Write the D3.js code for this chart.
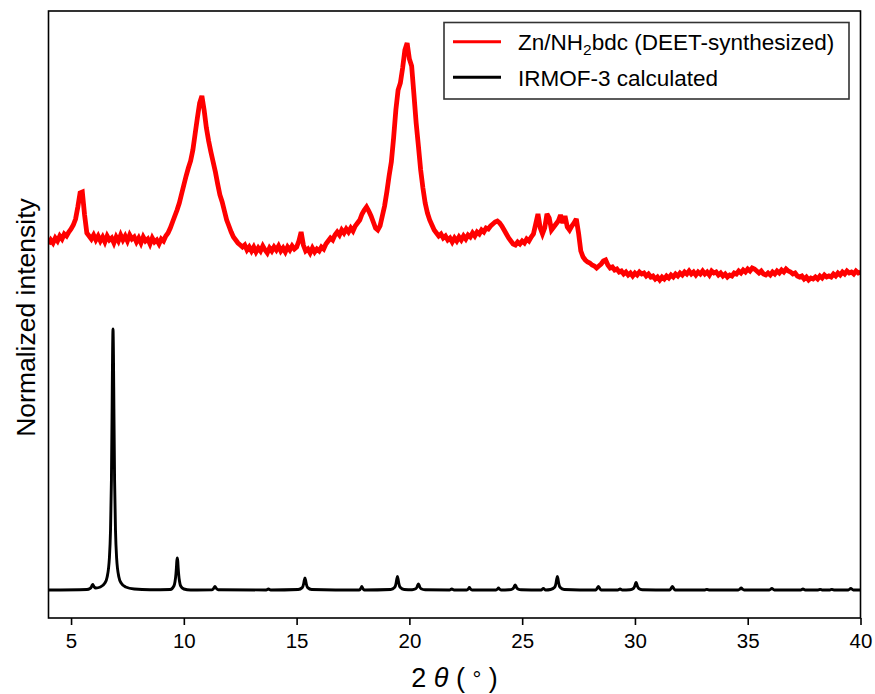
<!DOCTYPE html>
<html>
<head>
<meta charset="utf-8">
<script src="https://cdn.jsdelivr.net/npm/d3@7"></script>
<style>
  html, body { margin: 0; padding: 0; background: #fff; }
  svg { display: block; font-family: "Liberation Sans", Arial, Helvetica, sans-serif; }
</style>
</head>
<body>
<svg id="chart" width="875" height="694"></svg>
<script>
// ---- Data ----
const xTicks = [5, 10, 15, 20, 25, 30, 35, 40];
const seriesNames = ["Zn/NH2bdc (DEET-synthesized)", "IRMOF-3 calculated"];
const seriesColors = ["#ff0000", "#000000"];

// Measured pattern: 2θ from 4.0° to 40.0° in 0.1° steps (arbitrary intensity units, offset)
const redStart = 4.0, redStep = 0.1;
const redIntensity = [
  346,350,347,352,349,354,351,356,354,358,
  361,365,371,383,397,398,375,357,354,351,
  355,350,354,349,353,348,354,350,352,347,
  353,349,355,350,354,349,355,351,353,348,
  352,347,353,349,351,346,352,348,350,346,
  351,349,354,357,362,368,374,380,387,396,
  405,414,422,429,440,456,472,487,494,480,
  462,449,438,428,418,406,395,388,379,370,
  364,358,353,350,347,345,343,345,340,343,
  339,343,338,342,339,344,340,337,342,339,
  343,340,344,339,342,338,343,340,344,341,
  343,349,358,345,339,341,337,342,338,341,
  339,343,341,346,349,352,350,355,358,355,
  360,357,361,358,362,359,364,367,370,376,
  380,383,379,374,368,362,360,364,374,384,
  398,414,428,452,480,500,507,522,540,547,
  531,524,496,467,444,420,402,387,377,370,
  365,360,357,354,356,352,354,350,352,348,
  352,349,353,350,354,351,355,353,357,354,
  358,356,360,358,362,361,364,366,368,369,
  367,364,360,356,352,349,346,345,348,346,
  349,347,351,349,353,356,366,376,362,356,
  362,376,372,360,363,366,369,375,367,374,
  363,360,364,367,371,357,339,333,330,328,
  327,325,324,322,324,326,329,330,325,322,
  323,320,321,318,319,316,318,315,317,314,
  317,315,318,316,317,314,316,313,314,311,
  313,310,313,311,314,312,315,313,316,314,
  317,315,318,316,319,316,318,315,318,316,
  319,316,318,315,319,317,318,315,317,314,
  316,313,315,314,317,316,319,317,320,318,
  321,319,322,321,319,317,319,316,315,317,
  315,318,316,319,317,320,318,321,319,318,
  316,317,314,313,314,311,313,310,312,311,
  313,311,314,312,315,313,314,313,316,314,
  317,315,318,316,319,317,318,316,319,317,
  318
];

// Calculated pattern: [2θ, intensity]
const calcPattern = [
  [4.0,0],[5.7,0.5],[5.84,1.5],[5.9,3],[5.93,4.5],[5.96,5.5],[5.99,4.5],[6.03,3],[6.1,2],
  [6.3,3],[6.5,7],[6.6,13],[6.7,32],[6.75,60],[6.79,110],[6.82,181],[6.84,235],[6.86,261],
  [6.88,235],[6.9,181],[6.93,110],[6.97,60],[7.02,32],[7.12,13],[7.22,7],[7.42,3],[7.8,1],[8.5,0.3],
  [9.4,0.5],[9.56,4],[9.61,8.5],[9.65,16],[9.67,22],[9.69,29],[9.71,32],[9.73,29],[9.75,22],[9.77,16],
  [9.81,8.5],[9.86,4],[10.0,1],[10.3,0],
  [11.25,0.2],[11.33,1.8],[11.38,3.5],[11.43,1.8],[11.52,0.3],
  [13.65,0],[13.75,1],[13.85,0],
  [15.07,0.5],[15.25,2.4],[15.31,6],[15.34,9.6],[15.37,12],[15.4,9.6],[15.43,6],[15.49,2.4],[15.67,0.5],
  [17.78,0],[17.85,1.8],[17.89,3.5],[17.93,1.8],[18.0,0],
  [19.17,0.5],[19.35,2.7],[19.41,6.8],[19.44,10.8],[19.47,13.5],[19.5,10.8],[19.53,6.8],[19.59,2.7],[19.77,0.5],
  [20.12,0.3],[20.28,1.2],[20.34,3],[20.37,4.8],[20.4,6],[20.43,4.8],[20.46,3],[20.52,1.2],[20.7,0.2],
  [21.78,0],[21.88,1],[21.98,0],
  [22.54,0],[22.62,1.3],[22.66,2.5],[22.7,1.3],[22.78,0],
  [23.84,0],[23.91,1],[23.95,2],[23.99,1],[24.06,0],
  [24.42,0.2],[24.57,1],[24.63,2.5],[24.66,4],[24.69,5],[24.72,4],[24.75,2.5],[24.81,1],[24.96,0.2],
  [25.84,0],[25.94,1.5],[26.04,0],
  [26.26,0.5],[26.44,2.7],[26.5,6.8],[26.53,10.8],[26.56,13.5],[26.59,10.8],[26.62,6.8],[26.68,2.7],[26.86,0.5],
  [28.26,0],[28.33,1.8],[28.38,3.5],[28.43,1.8],[28.5,0],
  [29.24,0],[29.34,1],[29.44,0],
  [29.78,0.3],[29.93,1.5],[29.99,3.8],[30.02,6],[30.05,7.5],[30.08,6],[30.11,3.8],[30.17,1.5],[30.32,0.3],
  [31.54,0],[31.61,1.8],[31.66,3.5],[31.71,1.8],[31.78,0],
  [33.1,0],[33.19,0.6],[33.28,0],
  [34.58,0],[34.66,1],[34.71,2],[34.76,1],[34.84,0],
  [35.96,0],[36.07,1.5],[36.18,0],
  [37.35,0],[37.45,1],[37.55,0],
  [38.12,0],[38.21,0.6],[38.3,0],[38.64,0],[38.73,0.6],[38.82,0],
  [39.46,0],[39.57,1.5],[39.68,0],[40.0,0]
];

// ---- Layout ----
const M = { left: 48.5, right: 860.5, top: 11, bottom: 618 };

const svg = d3.select("#chart");

const x = d3.scaleLinear().domain([4, 40]).range([M.left, M.right]);
const y = d3.scaleLinear().domain([-28, 579]).range([M.bottom, M.top]);

const redData = redIntensity.map((v, i) => [redStart + i * redStep, v]);

const redLine = d3.line().x(d => x(d[0])).y(d => y(d[1]));
const calcLine = d3.line().x(d => x(d[0])).y(d => y(d[1])).curve(d3.curveMonotoneX);

svg.append("defs").append("clipPath").attr("id", "clip")
  .append("rect").attr("x", M.left).attr("y", M.top)
  .attr("width", M.right - M.left).attr("height", M.bottom - M.top);

const plot = svg.append("g").attr("clip-path", "url(#clip)");

plot.append("path").datum(redData)
  .attr("fill", "none").attr("stroke", seriesColors[0])
  .attr("stroke-width", 4.8).attr("stroke-linejoin", "miter").attr("stroke-miterlimit", 3)
  .attr("d", redLine);

plot.append("path").datum(calcPattern)
  .attr("fill", "none").attr("stroke", seriesColors[1])
  .attr("stroke-width", 2.9).attr("stroke-linejoin", "round")
  .attr("d", calcLine);

// Frame
svg.append("rect")
  .attr("x", M.left).attr("y", M.top)
  .attr("width", M.right - M.left).attr("height", M.bottom - M.top)
  .attr("fill", "none").attr("stroke", "#000").attr("stroke-width", 1.6);

// X axis
const xAxis = svg.append("g")
  .attr("transform", `translate(0,${M.bottom})`)
  .call(d3.axisBottom(x).tickValues(xTicks).tickSize(7).tickPadding(8).tickFormat(d3.format("d")));
xAxis.select(".domain").remove();
xAxis.selectAll(".tick line").attr("stroke", "#000").attr("stroke-width", 1.6);
xAxis.selectAll(".tick text")
  .attr("fill", "#000")
  .style("font-size", "20.5px")
  .style("font-family", "'Liberation Sans', Arial, sans-serif");

// X label
const xl = svg.append("text")
  .attr("x", (M.left + M.right) / 2)
  .attr("y", 687)
  .attr("text-anchor", "middle")
  .style("font-size", "27px")
  .attr("fill", "#000");
xl.append("tspan").text("2 ");
xl.append("tspan").style("font-style", "italic").text("θ");
xl.append("tspan").text(" ( ");
xl.append("tspan").style("font-size", "22px").text("°");
xl.append("tspan").text(" )");

// Y label
svg.append("text")
  .attr("transform", `translate(35,${(M.top + M.bottom) / 2 + 3}) rotate(-90)`)
  .attr("text-anchor", "middle")
  .style("font-size", "26.5px")
  .attr("fill", "#000")
  .text("Normalized intensity");

// Legend
const lg = svg.append("g");
lg.append("rect")
  .attr("x", 444).attr("y", 22.5).attr("width", 405).attr("height", 76.5)
  .attr("fill", "#fff").attr("stroke", "#333").attr("stroke-width", 1.6);
const rows = [41.7, 77.3];
rows.forEach((ry, i) => {
  lg.append("line")
    .attr("x1", 453).attr("x2", 501).attr("y1", ry).attr("y2", ry)
    .attr("stroke", seriesColors[i]).attr("stroke-width", 3);
});
const t1 = lg.append("text").attr("x", 518).attr("y", rows[0] + 8.3)
  .style("font-size", "22.5px").attr("fill", "#000");
t1.append("tspan").text("Zn/NH");
t1.append("tspan").attr("dy", 5).style("font-size", "15.5px").text("2");
t1.append("tspan").attr("dy", -5).text("bdc (DEET-synthesized)");
lg.append("text").attr("x", 518).attr("y", rows[1] + 8.3)
  .style("font-size", "22.5px").attr("fill", "#000")
  .text(seriesNames[1]);
</script>
</body>
</html>
